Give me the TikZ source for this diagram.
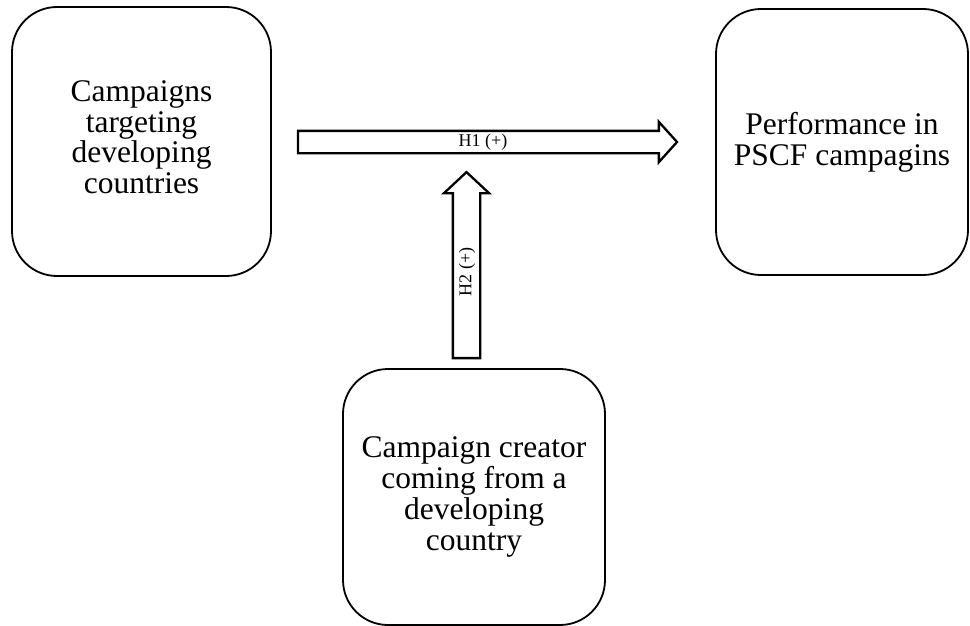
\documentclass[tikz,border=0pt]{standalone}
\usepackage{fontspec}
\setmainfont{Liberation Serif}
\usetikzlibrary{shapes.arrows}
\newcommand{\myboxfont}{\fontsize{31.5}{30.7}\selectfont\lineskiplimit=-50pt\relax\lineskip=0pt\relax}
\begin{document}
\begin{tikzpicture}[x=1pt,y=-1pt,
  box/.style={draw, line width=1.8pt, rectangle, rounded corners=45pt, align=center,
    font=\myboxfont, inner sep=0pt},
  blockarrow/.style={draw, line width=2.3pt, single arrow, single arrow head extend=9pt,
    inner xsep=0pt, fill=white},
  lab/.style={font=\fontsize{18}{20}\selectfont, inner sep=0pt}]
\useasboundingbox (0,0) rectangle (970,626);
\node[box, minimum width=259pt, minimum height=269pt, text depth=9pt] (L) at (141.5,141.5)
  {Campaigns\\targeting\\developing\\countries};
\node[box, minimum width=252pt, minimum height=266pt] (R) at (842,142)
  {Performance in\\PSCF campagins};
\node[box, minimum width=262pt, minimum height=256pt] (B) at (474,497)
  {Campaign creator\\coming from a\\developing\\country};
\node[blockarrow, inner ysep=10pt, minimum height=379pt, minimum width=38pt, single arrow tip angle=96] (h1) at (482.5,142) {};
\node[lab] (h1lab) at (483,142) {H1 (+)};
\node[blockarrow, rotate=90, inner ysep=12.5pt, minimum height=186pt, minimum width=43pt, single arrow tip angle=94] (h2) at (466.5,271.5) {};
\node[lab, rotate=90] (h2lab) at (467,272) {H2 (+)};
\end{tikzpicture}
\end{document}
